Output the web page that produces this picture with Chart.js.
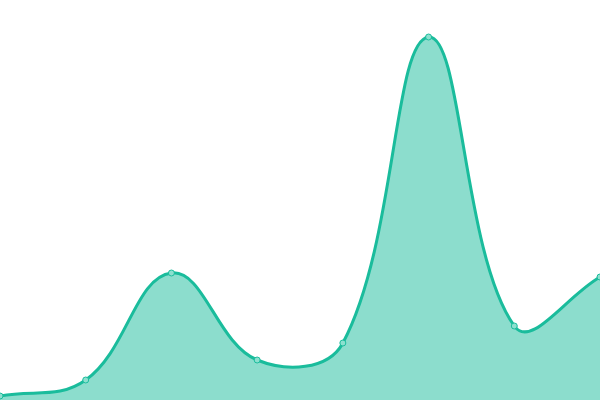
<!DOCTYPE html>
<html>
<head>
<meta charset="utf-8">
<script src="https://cdn.jsdelivr.net/npm/chart.js@4"></script>
<style>
  html, body { margin: 0; padding: 0; background: #fff; }
  #wrap { width: 600px; height: 400px; }
</style>
</head>
<body>
<div id="wrap"><canvas id="chart"></canvas></div>
<script>
const labels = ['1', '2', '3', '4', '5', '6', '7', '8'];
const values = [1, 5, 31.75, 10, 14.25, 90.75, 18.5, 30.75];

new Chart(document.getElementById('chart'), {
  type: 'line',
  data: {
    labels: labels,
    datasets: [{
      data: values,
      fill: 'origin',
      tension: 0.4,
      borderColor: 'rgb(26, 188, 156)',
      backgroundColor: 'rgba(26, 188, 156, 0.5)',
      borderWidth: 3,
      pointRadius: 3,
      pointBorderWidth: 1,
      pointBackgroundColor: 'rgb(140, 224, 207)',
      pointBorderColor: 'rgb(26, 188, 156)'
    }]
  },
  options: {
    animation: false,
    responsive: true,
    maintainAspectRatio: false,
    layout: { padding: 0, autoPadding: false },
    plugins: {
      legend: { display: false },
      tooltip: { enabled: false }
    },
    scales: {
      x: { display: false },
      y: { display: false, min: 0, max: 100 }
    }
  }
});
</script>
</body>
</html>
